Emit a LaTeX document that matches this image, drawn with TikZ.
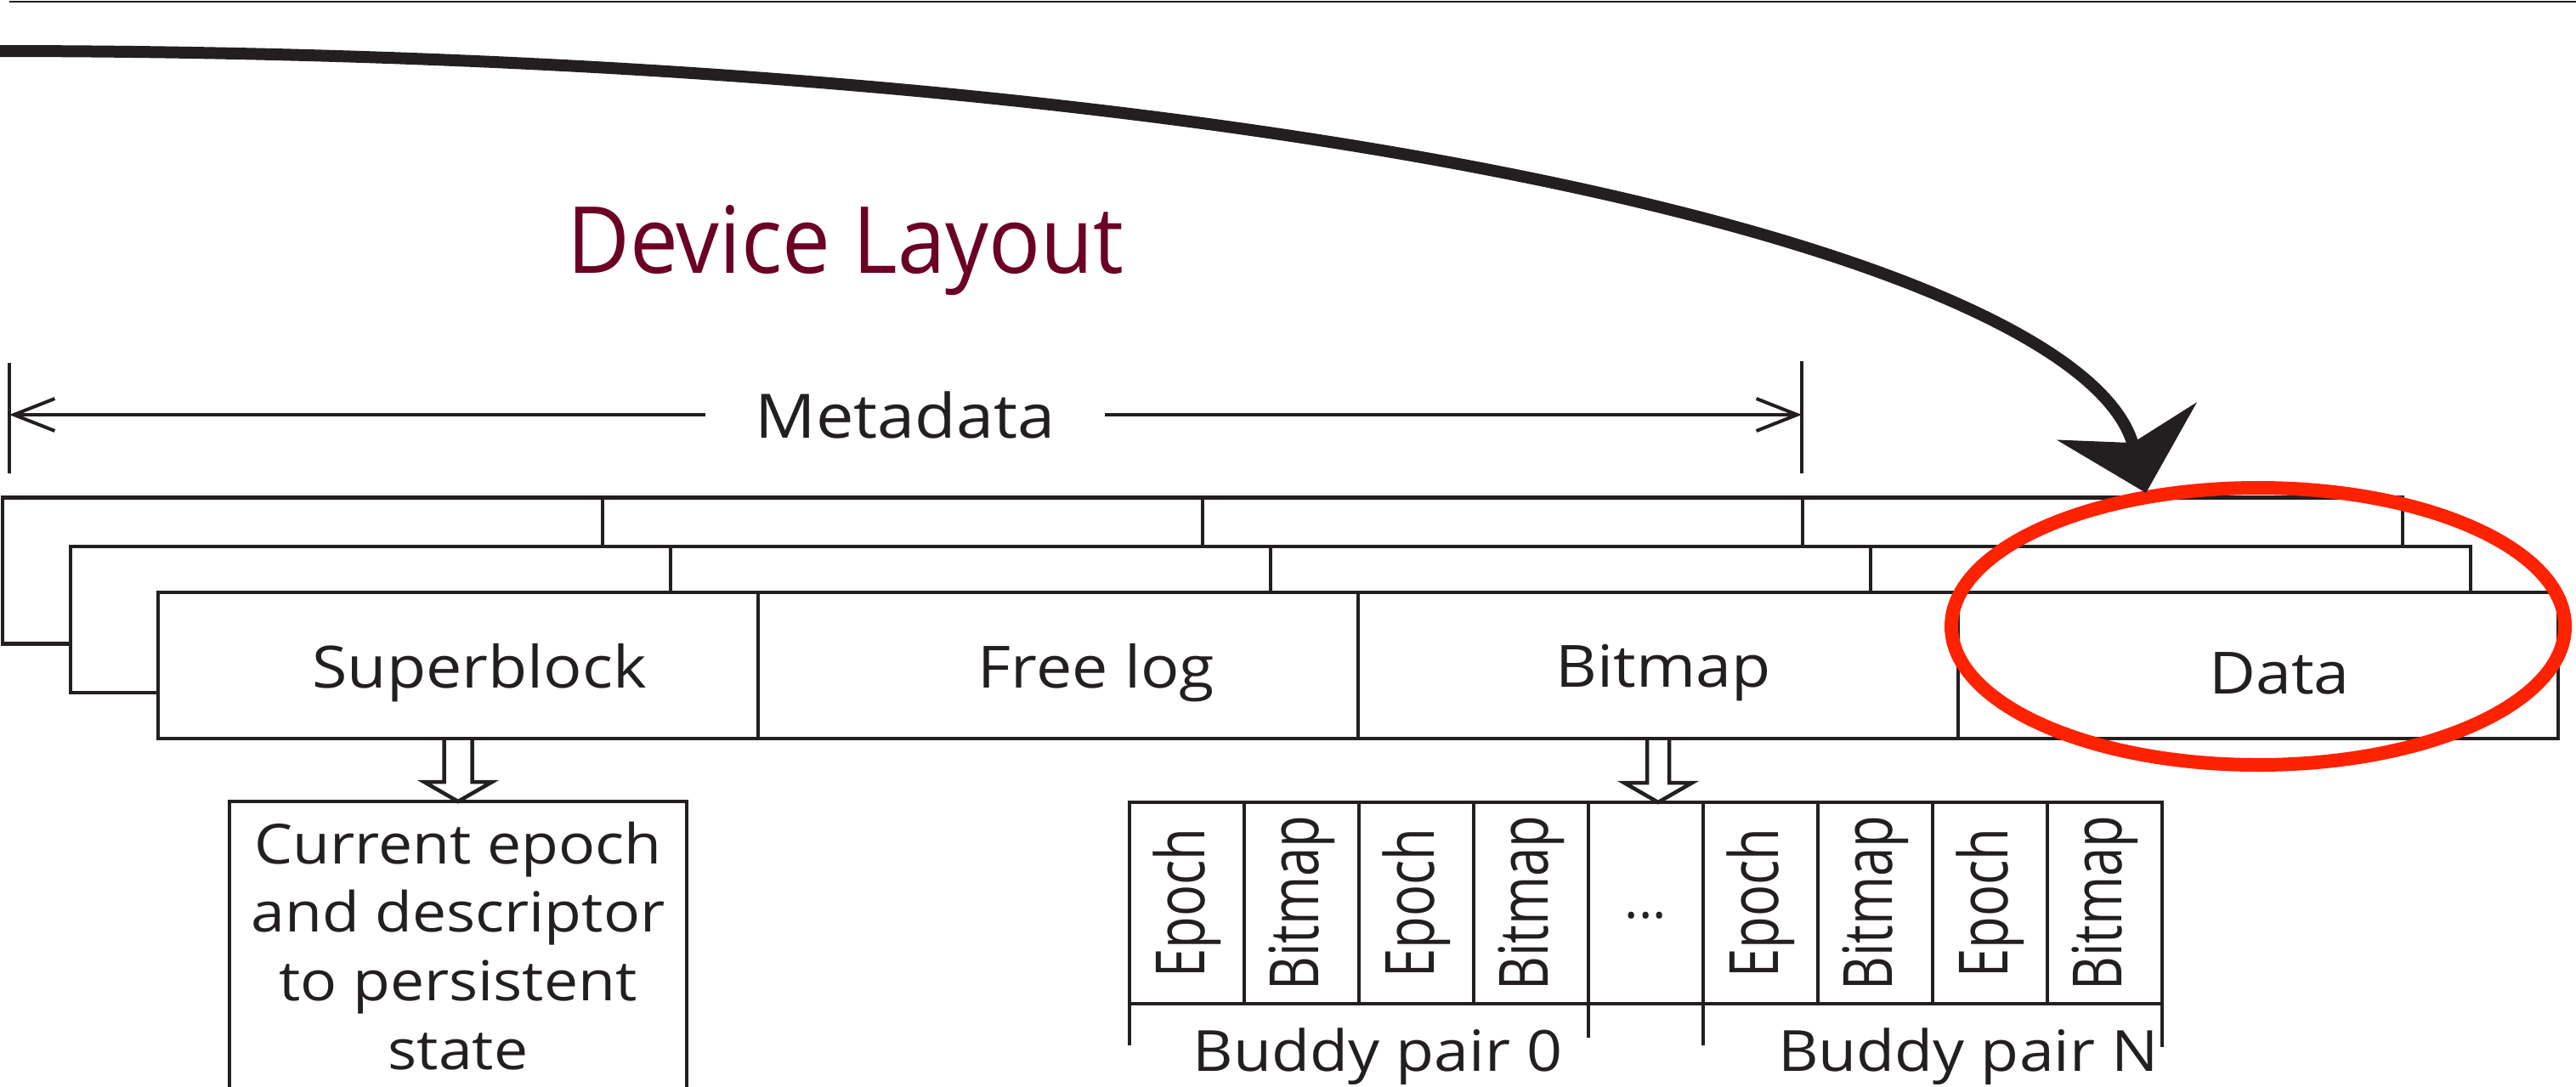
\documentclass[tikz,border=0pt]{standalone}
\usepackage{fontspec}
\setmainfont{Open Sans}
\newfontfamily\titlefont[FakeStretch=0.93]{Open Sans}
\newfontfamily\boxfont[FakeStretch=1.1]{Open Sans}
\usepackage{graphicx}
\usepackage{tikz}
\usetikzlibrary{positioning,arrows.meta,shapes.geometric,calc}

\definecolor{ink}{RGB}{35,31,32}
\definecolor{wine}{RGB}{107,0,36}
\definecolor{ringred}{RGB}{255,34,0}

\newcommand{\upright}[1]{\rotatebox{90}{\scalebox{1}[1.3]{#1}}}

\begin{document}
\begin{tikzpicture}[
          x=1cm, y=1cm,
          every node/.style={text=ink},
          cell/.style={draw=ink, fill=white, line width=0.045cm, minimum width=7.06cm, minimum height=1.72cm, inner sep=0pt, outer sep=0pt},
          celltxt/.style={inner sep=0pt, font=\boxfont\fontsize{19.5}{23}\selectfont},
          slot/.style={draw=ink, line width=0.045cm, minimum width=1.35cm, minimum height=2.37cm, inner sep=0pt, outer sep=0pt, font=\fontsize{17.5}{20}\selectfont},
          descbox/.style={draw=ink, line width=0.045cm, minimum width=5.38cm, minimum height=4cm, inner sep=0pt, outer sep=0pt},
          lbl/.style={inner sep=0pt, font=\boxfont\fontsize{18.5}{23}\selectfont, align=center},
          pairlbl/.style={inner sep=0pt, font=\boxfont\fontsize{19}{23}\selectfont},
          hollow/.style={draw=ink, line width=0.045cm, line join=miter},
          dim/.style={draw=ink, line width=0.04cm},
          barb/.style={-{Straight Barb[length=0.48cm, width=0.38cm]}}
      ]
        \useasboundingbox (0,0) rectangle (30.31,-12.78);
        \draw[ink, line width=0.025cm] (0.11,-0.02) -- (30.31,-0.02);

        \node[font=\titlefont\fontsize{31}{36}\selectfont, text=wine, anchor=base] (title) at (9.95,-3.21) {Device Layout};

        % metadata span
        \node[font=\boxfont\fontsize{20.5}{24}\selectfont, inner xsep=0.58cm, inner ysep=0pt] (meta) at (10.65,-4.88) {Metadata};
        \coordinate (mleft) at (0.11,-4.88);
        \coordinate (mright) at (21.20,-4.88);
        \draw[dim, barb] (meta.west) -- (mleft);
        \draw[dim, barb] (meta.east) -- (mright);
        \draw[dim] ($(mleft)+(0,0.61)$) -- ($(mleft)+(0,-0.69)$);
        \draw[dim] ($(mright)+(0,0.63)$) -- ($(mright)+(0,-0.69)$);

        % three copies of the device, back to front
        \node[cell] (far1) at (3.56,-6.715) {};
        \node[cell, right=0cm of far1] (far2) {};
        \node[cell, right=0cm of far2] (far3) {};
        \node[cell, right=0cm of far3] (far4) {};

        \node[cell] (mid1) at (4.36,-7.29) {};
        \node[cell, right=0cm of mid1] (mid2) {};
        \node[cell, right=0cm of mid2] (mid3) {};
        \node[cell, right=0cm of mid3] (mid4) {};

        \node[cell] (sb) at (5.39,-7.83) {};
        \node[cell, right=0cm of sb] (flog) {};
        \node[cell, right=0cm of flog] (bmap) {};
        \node[cell, right=0cm of bmap] (data) {};
        \node[celltxt] (sbtxt) at ($(sb)+(0.25,-0.09)$) {Superblock};
        \node[celltxt] (flogtxt) at ($(flog)+(0.45,-0.09)$) {Free log};
        \node[celltxt] (bmaptxt) at ($(bmap)+(0.06,-0.09)$) {Bitmap};
        \node[celltxt] (datatxt) at ($(data)+(0.25,-0.09)$) {Data};

        % superblock contents
        \node[descbox, below=0.74cm of sb] (desc) {};
        \node[lbl, below=0.23cm of desc.north] (desctxt) {Current epoch\\and descriptor\\to persistent\\state};
        \draw[hollow] ($(sb.south)+(-0.165,0)$) -- ($(sb.south |- desc.north)+(-0.165,0.23)$) -- ++(-0.235,0)
          -- (sb.south |- desc.north) -- ++(0.40,0.23) -- ++(-0.235,0) -- ($(sb.south)+(0.165,0)$);

        % bitmap contents
        \node[slot] (ep1) at (13.965,-10.625) {\upright{Epoch}};
        \node[slot, right=0cm of ep1] (bm1) {\upright{Bitmap}};
        \node[slot, right=0cm of bm1] (ep2) {\upright{Epoch}};
        \node[slot, right=0cm of ep2] (bm2) {\upright{Bitmap}};
        \node[slot, right=0cm of bm2, text height=0.36cm, text depth=0pt] (gap) {...};
        \node[slot, right=0cm of gap] (ep3) {\upright{Epoch}};
        \node[slot, right=0cm of ep3] (bm3) {\upright{Bitmap}};
        \node[slot, right=0cm of bm3] (ep4) {\upright{Epoch}};
        \node[slot, right=0cm of ep4] (bm4) {\upright{Bitmap}};
        \draw[hollow] ($(bmap.south)+(-0.13,0)$) -- ($(bmap.south |- ep1.north)+(-0.13,0.23)$) -- ++(-0.27,0)
          -- (bmap.south |- ep1.north) -- ++(0.40,0.23) -- ++(-0.27,0) -- ($(bmap.south)+(0.13,0)$);

        \draw[dim] (ep1.south west) -- ++(0,-0.49);
        \draw[dim] (bm2.south east) -- ++(0,-0.40);
        \draw[dim] (ep3.south west) -- ++(0,-0.49);
        \draw[dim] (bm4.south east) -- ++(0,-0.51);
        \node[pairlbl, anchor=base] (pair0) at ($(ep1.south west)!0.5!(bm2.south east)+(0.22,-0.79)$) {Buddy pair 0};
        \node[pairlbl, anchor=base] (pairN) at ($(ep3.south west)!0.5!(bm4.south east)+(0.42,-0.79)$) {Buddy pair N};

        % highlight on the data region
        \node[draw=ringred, line width=0.16cm, ellipse, minimum width=7.22cm, minimum height=3.26cm, inner sep=0pt] (ring) at (26.57,-7.37) {};

        \coordinate (src) at (-0.10,-0.60);
        \coordinate (hit) at (25.25,-5.80);
        \draw[ink, line width=0.14cm, -{Stealth[length=0.87cm, width=1.69cm, inset=0.26cm]}] (src) .. controls (15.00,-0.60) and (24.50,-3.00) .. (hit);
      \end{tikzpicture}
\end{document}
